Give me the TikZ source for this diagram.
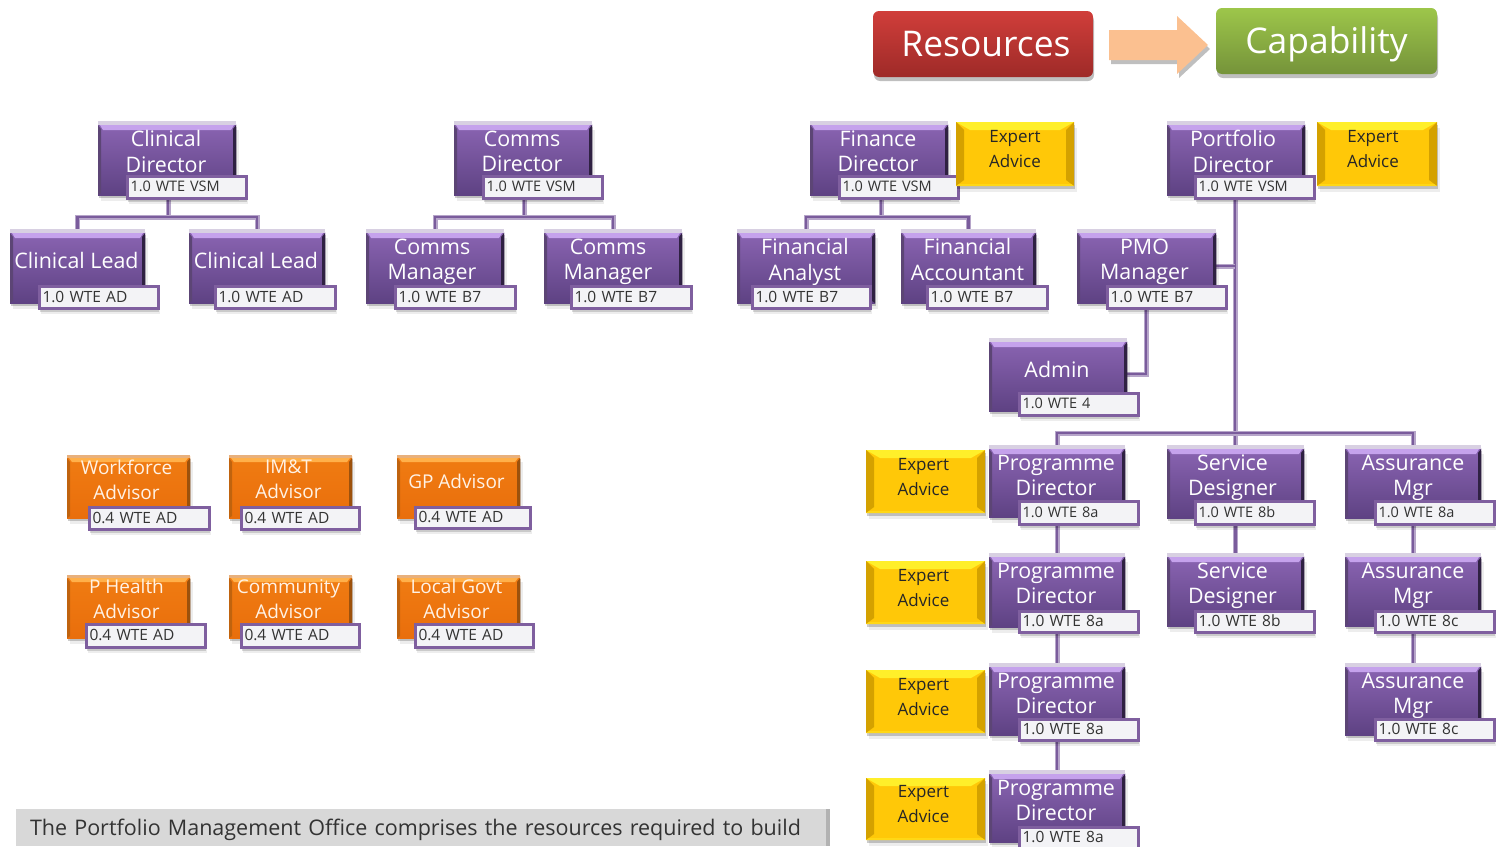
\documentclass[tikz,border=0pt]{standalone}
\usepackage{fontspec}
\setmainfont{Open Sans}
\usetikzlibrary{shadows,backgrounds}
\definecolor{ptop}{HTML}{8A64B2}\definecolor{pbot}{HTML}{5E4283}
\definecolor{phi}{HTML}{C5A2EC}\definecolor{pline}{HTML}{7A5C9C}
\definecolor{pedge}{HTML}{D8D0E2}
\definecolor{otop}{HTML}{F07C12}\definecolor{obot}{HTML}{E96E0C}
\definecolor{ohi}{HTML}{FFB04A}\definecolor{oedge}{HTML}{E8B07C}
\definecolor{ymid}{HTML}{FFC808}\definecolor{yhi}{HTML}{FFEF2A}\definecolor{yside}{HTML}{D4A100}
\definecolor{lblfill}{HTML}{F3F3F6}\definecolor{lblline}{HTML}{7F5F9F}
\definecolor{notegrey}{HTML}{D8D8D8}
\definecolor{redtop}{HTML}{D03E3A}\definecolor{redbot}{HTML}{9E2A28}
\definecolor{greentop}{HTML}{9DC64A}\definecolor{greenbot}{HTML}{75933A}
\definecolor{arrowfill}{HTML}{FBC090}
\tikzset{
  softshadow/.style={drop shadow={shadow xshift=2.5pt,shadow yshift=-6pt,fill=black,opacity=.07},
                     drop shadow={shadow xshift=1pt,shadow yshift=-3pt,fill=black,opacity=.2}},
  boxbase/.style={inner sep=0pt,outer sep=0pt,rectangle,softshadow},
  pbox/.style={boxbase,top color=ptop,bottom color=pbot},
  obox/.style={boxbase,top color=otop,bottom color=obot},
  ybox/.style={boxbase,fill=ymid},
  cardtext/.style={align=center,inner sep=0pt,execute at begin node=\strut,execute at end node=\strut},
  ptext/.style={cardtext,text=white,font=\fontsize{21.4}{25.5}\selectfont},
  otext/.style={cardtext,text=white!90!orange,font=\fontsize{19}{25}\selectfont},
  ytext/.style={cardtext,text=black!85,font=\fontsize{17}{25}\selectfont},
  lbl/.style={draw=lblline,line width=3pt,fill=lblfill,rectangle,inner xsep=3pt,inner ysep=0pt,outer sep=0pt,
    align=left,font=\fontsize{15.5}{17}\selectfont,text=black!80,
    drop shadow={shadow xshift=1.5pt,shadow yshift=-5pt,fill=black,opacity=.07},
    drop shadow={shadow xshift=0.5pt,shadow yshift=-3pt,fill=black,opacity=.15}},
  lblsmall/.style={font=\fontsize{14.5}{17}\selectfont},
  conn/.style={draw=pline,line width=2.6pt,preaction={draw=pline!55!white,line width=5pt}},
  topbtn/.style={rectangle,rounded corners=6pt,inner sep=0pt,outer sep=0pt,text=white,
    font=\fontsize{35.4}{40}\selectfont,drop shadow={shadow xshift=1pt,shadow yshift=-4pt,fill=black,opacity=.25}}
}
\newcommand{\pcard}[7][0]{%
  \pgfmathsetmacro{\cx}{(#3+#5)/2}\pgfmathsetmacro{\cy}{(#4+#6)/2}%
  \pgfmathsetmacro{\bw}{#5-#3}\pgfmathsetmacro{\bh}{#6-#4}%
  \node[pbox,minimum width=\bw pt,minimum height=\bh pt] (#2) at (\cx,\cy) {};
  \fill[phi] (#3+2,#4+1) -- (#5-2,#4+1) -- (#5-5,#4+6) -- (#3+5,#4+6) -- cycle;
  \fill[pedge] (#3,#4-3) rectangle (#5,#4+1);
  \fill[pline!75!black] (#3,#4+1) -- (#3+3,#4+5) -- (#3+3,#6-2) -- (#3,#6) -- cycle;
  \fill[pbot!50!black] (#5,#4+1) -- (#5-3,#4+5) -- (#5-3,#6-2) -- (#5,#6) -- cycle;
  \pgfmathsetmacro{\tx}{\cx-1+#1}\pgfmathsetmacro{\ty}{#4+31}%
  \node[ptext] (#2t) at (\tx,\ty) {#7};
}
\newcommand{\ocard}[7][0]{%
  \pgfmathsetmacro{\cx}{(#3+#5)/2}\pgfmathsetmacro{\cy}{(#4+#6)/2}%
  \pgfmathsetmacro{\bw}{#5-#3}\pgfmathsetmacro{\bh}{#6-#4}%
  \node[obox,minimum width=\bw pt,minimum height=\bh pt] (#2) at (\cx,\cy) {};
  \fill[ohi] (#3+2,#4+2) -- (#5-2,#4+2) -- (#5-5,#4+6) -- (#3+5,#4+6) -- cycle;
  \fill[oedge] (#3,#4-1) rectangle (#5,#4+2);
  \fill[otop!80!black] (#3,#4+2) -- (#3+3,#4+6) -- (#3+3,#6-2) -- (#3,#6) -- cycle;
  \fill[otop!65!black] (#5,#4+2) -- (#5-3,#4+6) -- (#5-3,#6-2) -- (#5,#6) -- cycle;
  \pgfmathsetmacro{\tx}{\cx-2+#1}\pgfmathsetmacro{\ty}{#4+27}%
  \node[otext] (#2t) at (\tx,\ty) {#7};
}
\newcommand{\ycard}[7][0]{%
  \pgfmathsetmacro{\cx}{(#3+#5)/2}\pgfmathsetmacro{\cy}{(#4+#6)/2}%
  \pgfmathsetmacro{\bw}{#5-#3}\pgfmathsetmacro{\bh}{#6-#4}%
  \node[ybox,minimum width=\bw pt,minimum height=\bh pt] (#2) at (\cx,\cy) {};
  \fill[yhi] (#3,#4) -- (#5,#4) -- (#5-14,#4+8) -- (#3+14,#4+8) -- cycle;
  \fill[yside] (#3,#4) -- (#3+8,#4+8) -- (#3+8,#6-6) -- (#3,#6) -- cycle;
  \fill[yside] (#5,#4) -- (#5-8,#4+8) -- (#5-8,#6-6) -- (#5,#6) -- cycle;
  \fill[yhi!40!ymid] (#3,#6) -- (#3+3,#6-2) -- (#5-3,#6-2) -- (#5,#6) -- cycle;
  \pgfmathsetmacro{\tx}{\cx+#1}\pgfmathsetmacro{\ty}{\cy-1}%
  \node[ytext] (#2t) at (\tx,\ty) {#7};
}
\newcommand{\nametag}[7][]{%
  \pgfmathsetmacro{\cx}{(#3+#5)/2}\pgfmathsetmacro{\cy}{(#4+#6)/2}%
  \pgfmathsetmacro{\bw}{#5-#3-9}\pgfmathsetmacro{\bh}{#6-#4-3}%
  \node[lbl,#1,text width=\bw pt,minimum height=\bh pt] (#2) at (\cx,\cy) {\raisebox{2pt}{#7}};
}
\begin{document}
\begin{tikzpicture}[x=1pt,y=-1pt]
\useasboundingbox (0,0) rectangle (1499,846);
\clip (0,0) rectangle (1499,846);
% top banner
\node[topbtn,minimum width=220pt,minimum height=66pt,top color=redtop,bottom color=redbot] (res) at (983,44) {\hspace*{6pt}Resources};
\node[topbtn,minimum width=221pt,minimum height=66pt,top color=greentop,bottom color=greenbot] (cap) at (1326.5,41) {\raisebox{-3pt}[\height][\depth]{Capability}};
\coordinate (arrB) at (1208,45);
\fill[arrowfill,drop shadow={shadow xshift=2pt,shadow yshift=-4pt,fill=black,opacity=.25}] (1109,30) -- (1177,30) -- (1177,16) -- (arrB) -- (1177,74) -- (1177,60) -- (1109,60) -- cycle;
% purple cards
\pcard{cd}{98}{124}{236}{195}{Clinical\\Director}
\nametag[lblsmall]{cdl}{126}{175}{248}{200}{1.0 WTE VSM}
\pcard{cla}{10}{232}{145}{303}{Clinical Lead}
\nametag{clal}{38}{285}{160}{310}{1.0 WTE AD}
\pcard{clb}{189}{232}{325}{303}{Clinical Lead}
\nametag{clbl}{214}{285}{337}{310}{1.0 WTE AD}
\pcard{kd}{454}{124}{592}{195}{Comms\\Director}
\nametag[lblsmall]{kdl}{482}{175}{604}{200}{1.0 WTE VSM}
\pcard[-2]{kma}{366}{232}{504}{303}{Comms\\Manager}
\nametag{kmal}{394}{285}{517}{310}{1.0 WTE B7}
\pcard[-4]{kmb}{544}{232}{682}{303}{Comms\\Manager}
\nametag{kmbl}{570}{285}{693}{310}{1.0 WTE B7}
\pcard{fd}{810}{124}{948}{195}{Finance\\Director}
\nametag[lblsmall]{fdl}{838}{175}{960}{200}{1.0 WTE VSM}
\ycard{fy}{956}{122}{1074}{186}{Expert\\Advice}
\pcard{fan}{737}{232}{875}{303}{Financial\\Analyst}
\nametag{fanl}{751}{285}{872}{310}{1.0 WTE B7}
\pcard{fac}{901}{232}{1036}{303}{Financial\\Accountant}
\nametag{facl}{926}{285}{1049}{310}{1.0 WTE B7}
\pcard[-2]{pd}{1167}{124}{1305}{195}{Portfolio\\Director}
\nametag[lblsmall]{pdl}{1194}{175}{1316}{200}{1.0 WTE VSM}
\ycard[-4]{py}{1317}{122}{1437}{186}{Expert\\Advice}
\pcard[-1]{pmo}{1077}{232}{1216}{303}{PMO\\Manager}
\nametag{pmol}{1106}{285}{1228}{310}{1.0 WTE B7}
\pcard{adm}{989}{341}{1127}{411}{Admin}
\nametag[lblsmall]{adml}{1018}{392}{1140}{417}{1.0 WTE 4}
\pcard{pga}{989}{448}{1125}{517}{Programme\\Director}
\nametag[lblsmall]{pgal}{1018}{500}{1140}{526}{1.0 WTE 8a}
\ycard[-2]{yga}{866}{450}{985}{513}{Expert\\Advice}
\pcard{pgb}{989}{556}{1125}{627}{Programme\\Director}
\nametag{pgbl}{1018}{610}{1140}{634}{1.0 WTE 8a}
\ycard[-2]{ygb}{866}{561}{985}{624}{Expert\\Advice}
\pcard{pgc}{989}{666}{1125}{735}{Programme\\Director}
\nametag{pgcl}{1018}{718}{1140}{742}{1.0 WTE 8a}
\ycard[-2]{ygc}{866}{670}{985}{733}{Expert\\Advice}
\pcard{pgd}{989}{773}{1125}{842}{Programme\\Director}
\nametag{pgdl}{1018}{826}{1140}{850}{1.0 WTE 8a}
\ycard[-2]{ygd}{866}{778}{985}{840}{Expert\\Advice}
\pcard[-2]{sda}{1167}{448}{1304}{518}{Service\\Designer}
\nametag[lblsmall]{sdal}{1194}{500}{1316}{526}{1.0 WTE 8b}
\pcard[-2]{sdb}{1167}{556}{1304}{626}{Service\\Designer}
\nametag{sdbl}{1194}{610}{1316}{634}{1.0 WTE 8b}
\pcard[1]{ama}{1345}{448}{1481}{518}{Assurance\\Mgr}
\nametag[lblsmall]{amal}{1374}{500}{1496}{526}{1.0 WTE 8a}
\pcard[1]{amb}{1345}{556}{1481}{626}{Assurance\\Mgr}
\nametag{ambl}{1374}{610}{1496}{634}{1.0 WTE 8c}
\pcard[1]{amc}{1345}{666}{1481}{735}{Assurance\\Mgr}
\nametag{amcl}{1374}{718}{1496}{742}{1.0 WTE 8c}
% orange cards
\ocard{wf}{67}{456}{190}{518}{Workforce\\Advisor}
\nametag{wfl}{88}{506}{211}{531}{0.4 WTE AD}
\ocard{im}{229}{456}{352}{518}{IM\&T\\Advisor}
\nametag{iml}{240}{506}{361}{531}{0.4 WTE AD}
\ocard{gp}{397}{456}{520}{518}{GP Advisor}
\nametag{gpl}{414}{506}{532}{530}{0.4 WTE AD}
\ocard{ph}{67}{576}{190}{638}{P Health\\Advisor}
\nametag{phl}{85}{623}{207}{649}{0.4 WTE AD}
\ocard{cm}{229}{576}{352}{638}{Community\\Advisor}
\nametag{cml}{240}{623}{361}{649}{0.4 WTE AD}
\ocard{lg}{397}{576}{520}{638}{Local Govt\\Advisor}
\nametag{lgl}{414}{623}{535}{649}{0.4 WTE AD}
% note
\node[rectangle,fill=notegrey,text width=782pt,minimum height=37pt,inner xsep=14pt,inner ysep=0pt,align=left,text=black!80,
  font=\fontsize{21.5}{24}\selectfont,drop shadow={shadow xshift=4pt,shadow yshift=0pt,fill=black,opacity=.3}] (note) at (421,827.5) {\raisebox{-2pt}[\height][\depth]{The Portfolio Management Office comprises the resources required to build}};
% connectors
\coordinate (j1) at (168,217);
\coordinate (j2) at (524,217);
\coordinate (j3) at (881,217);
\coordinate (j4) at (1235,433);
\coordinate (j5) at (1235,266);
\coordinate (j6) at (1146,374);
\begin{scope}[on background layer]
\draw[conn] (cdl.south -| j1) -- (j1);
\draw[conn] (cla.north) |- (j1) -| (clb.north);
\draw[conn] (kdl.south -| j2) -- (j2);
\draw[conn] (kma.north) |- (j2) -| (kmb.north);
\draw[conn] (fdl.south -| j3) -- (j3);
\draw[conn] (fan.north) |- (j3) -| (fac.north);
\draw[conn] (pdl.south -| j4) -- (sda.north -| j4);
\draw[conn] (pmo.east |- j5) -- (j5);
\draw[conn] (pmol.south -| j6) -- (j6) -- (adm.east |- j6);
\draw[conn] (pga.north) |- (j4) -| (ama.north);
\draw[conn] (pgal.south -| pga.north) -- (pgb.north);
\draw[conn] (pgbl.south -| pga.north) -- (pgc.north);
\draw[conn] (pgcl.south -| pga.north) -- (pgd.north);
\draw[conn] (sdal.south -| sda.north) -- (sdb.north);
\draw[conn] (amal.south -| ama.north) -- (amb.north);
\draw[conn] (ambl.south -| ama.north) -- (amc.north);
\end{scope}
\end{tikzpicture}
\end{document}
